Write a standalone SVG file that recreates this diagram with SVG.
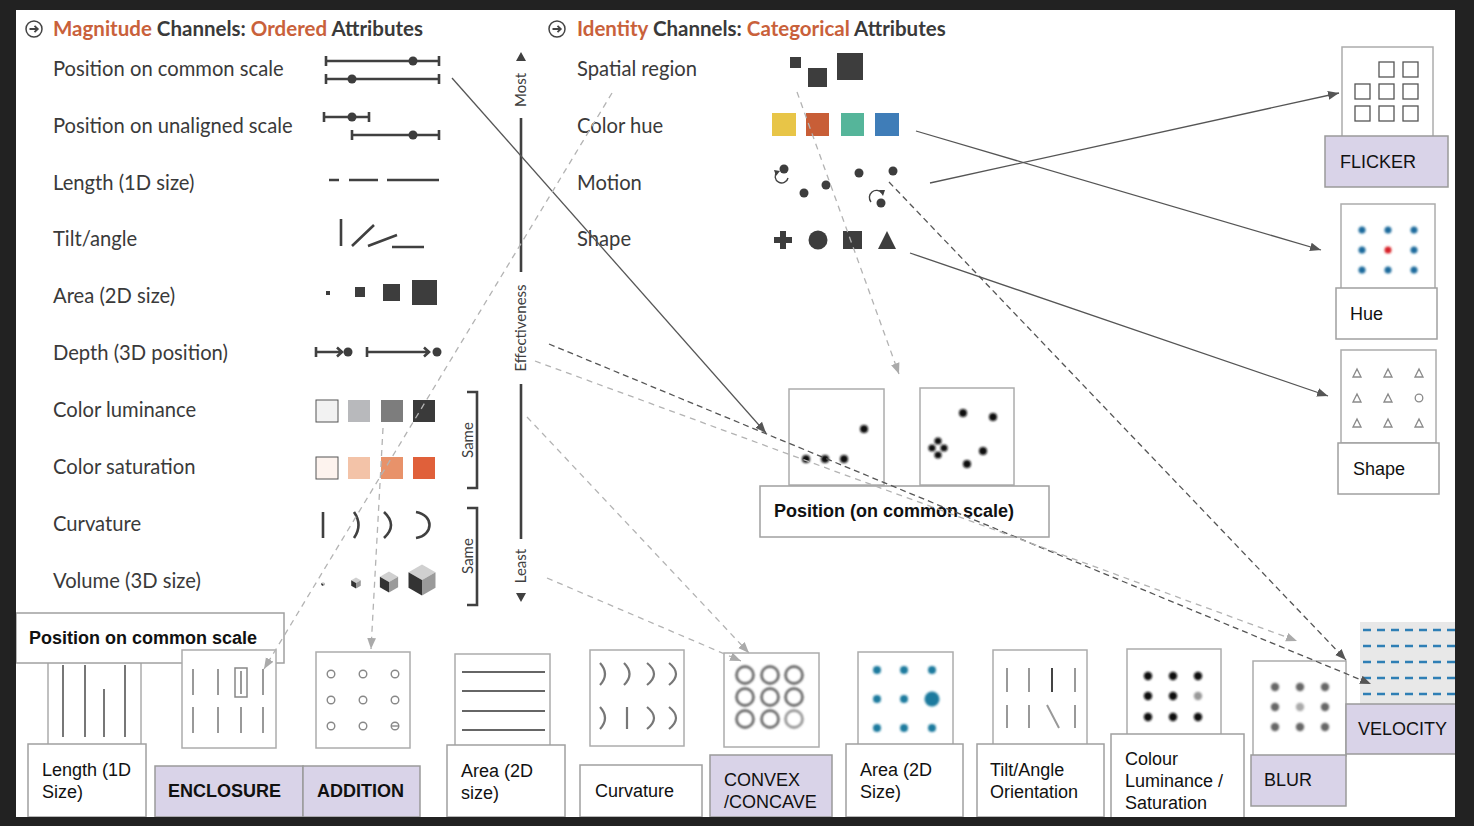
<svg xmlns="http://www.w3.org/2000/svg" xmlns:xlink="http://www.w3.org/1999/xlink" width="1474" height="826" viewBox="0 0 1474 826">
<style>
.lbl{font-family:Lato,"Open Sans",sans-serif;font-size:20.2px;fill:#3a3a3a}
.hdr{font-family:Lato,"Open Sans",sans-serif;font-size:20.5px;font-weight:bold;fill:#3a3a3a}
.or{fill:#c9613b}
.sm{font-family:Lato,"Open Sans",sans-serif;font-size:15px;fill:#404040}
.t{font-family:"Liberation Sans",Arial,sans-serif;font-size:18px;fill:#111}
.tb{font-family:"Liberation Sans",Arial,sans-serif;font-size:18px;font-weight:bold;fill:#111}
.tbb{font-family:"Liberation Sans",Arial,sans-serif;font-size:18px;font-weight:bold;fill:#111}
.box{fill:#fff;stroke:#a0a0a0;stroke-width:1.5}
.lav{fill:#d9d3e8;stroke:#9a9a9a;stroke-width:1.5}
.img{fill:#fff;stroke:#acacac;stroke-width:1.5}
.g{stroke:#404040;stroke-width:2.6;fill:none}
.gf{fill:#3d3d3d}
.sol{stroke:#555;stroke-width:1.3;fill:none}
.dd{stroke:#555;stroke-width:1.3;fill:none;stroke-dasharray:6 4}
.dl{stroke:#b3b3b3;stroke-width:1.3;fill:none;stroke-dasharray:6 5}
</style>
<defs>
<marker id="ad" viewBox="0 0 10 10" refX="10" refY="5" markerWidth="11" markerHeight="11" markerUnits="userSpaceOnUse" orient="auto"><path d="M0,1 L10,5 L0,9 z" fill="#555"/></marker>
<marker id="al" viewBox="0 0 10 10" refX="10" refY="5" markerWidth="11" markerHeight="11" markerUnits="userSpaceOnUse" orient="auto"><path d="M0,1 L10,5 L0,9 z" fill="#aaa"/></marker>
<g id="ic"><circle r="8" fill="none" stroke="#444" stroke-width="1.5"/><path d="M-4.5,0 H3.5 M0.5,-3.2 L3.8,0 L0.5,3.2" stroke="#444" stroke-width="1.8" fill="none"/></g>
<g id="cube"><path d="M0,-1 L0.87,-0.5 L0,0 L-0.87,-0.5 z" fill="#d0d0d0"/><path d="M-0.87,-0.5 L0,0 L0,1 L-0.87,0.5 z" fill="#333"/><path d="M0,0 L0.87,-0.5 L0.87,0.5 L0,1 z" fill="#9a9a9a"/></g>
<filter id="bl" x="-50%" y="-50%" width="200%" height="200%"><feGaussianBlur stdDeviation="0.9"/></filter>
<clipPath id="panel"><rect x="16" y="10" width="1439" height="807"/></clipPath>
</defs>
<rect x="0" y="0" width="1474" height="826" fill="#222"/>
<rect x="16" y="10" width="1439" height="807" fill="#fff"/>
<g clip-path="url(#panel)">
<g id="magnitude-header">
<use href="#ic" x="34" y="29"/>
<text class="hdr" x="53" y="36"><tspan class="or">Magnitude</tspan> Channels: <tspan class="or">Ordered</tspan> Attributes</text>
</g>
<g id="identity-header">
<use href="#ic" x="557" y="29"/>
<text class="hdr" x="577" y="36"><tspan class="or">Identity</tspan> Channels: <tspan class="or">Categorical</tspan> Attributes</text>
</g>

<g id="mag-position-common">
<text class="lbl" x="53" y="76">Position on common scale</text>
<path class="g" d="M326,61 H439 M326,56 V66 M439,56 V66 M326,79 H439 M326,74 V84 M439,74 V84"/>
<circle cx="413" cy="61" r="4.5" class="gf"/><circle cx="352" cy="79" r="4.5" class="gf"/>
</g>
<g id="mag-position-unaligned">
<text class="lbl" x="53" y="133">Position on unaligned scale</text>
<path class="g" d="M324,117 H369 M324,112 V122 M369,112 V122 M352,135 H439 M352,130 V140 M439,130 V140"/>
<circle cx="352" cy="117" r="4.5" class="gf"/><circle cx="413" cy="135" r="4.5" class="gf"/>
</g>
<g id="mag-length">
<text class="lbl" x="53" y="190">Length (1D size)</text>
<path class="g" d="M329,180 H339 M349,180 H378 M387,180 H439"/>
</g>
<g id="mag-tilt">
<text class="lbl" x="53" y="246">Tilt/angle</text>
<path class="g" d="M341,219 V246 M352,246 L374,225 M368,246 L397,235 M392,247 H424"/>
</g>
<g id="mag-area">
<text class="lbl" x="53" y="303">Area (2D size)</text>
<rect x="326" y="291" width="4" height="4" class="gf"/>
<rect x="355" y="287" width="10" height="10" class="gf"/>
<rect x="383" y="284" width="17" height="17" class="gf"/>
<rect x="412" y="280" width="25" height="25" class="gf"/>
</g>
<g id="mag-depth">
<text class="lbl" x="53" y="360">Depth (3D position)</text>
<path class="g" d="M316,347 V357 M316,352 H342 M337,347.5 L342,352 L337,356.5 M367,347 V357 M367,352 H429 M424,347.5 L429,352 L424,356.5"/>
<circle cx="348" cy="352" r="4.5" class="gf"/><circle cx="437" cy="352" r="4.5" class="gf"/>
</g>
<g id="mag-luminance">
<text class="lbl" x="53" y="417">Color luminance</text>
<rect x="316" y="400" width="22" height="22" fill="#f2f2f2" stroke="#555" stroke-width="1"/>
<rect x="348" y="400" width="22" height="22" fill="#b8b9bc"/>
<rect x="381" y="400" width="22" height="22" fill="#7d7d7d"/>
<rect x="413" y="400" width="22" height="22" fill="#3a3a3a"/>
</g>
<g id="mag-saturation">
<text class="lbl" x="53" y="474">Color saturation</text>
<rect x="316" y="457" width="22" height="22" fill="#fdf3ee" stroke="#555" stroke-width="1"/>
<rect x="348" y="457" width="22" height="22" fill="#f3c3a8"/>
<rect x="381" y="457" width="22" height="22" fill="#e8926a"/>
<rect x="413" y="457" width="22" height="22" fill="#e0603a"/>
</g>
<g id="mag-curvature">
<text class="lbl" x="53" y="531">Curvature</text>
<path class="g" d="M323,512 V538 M354,512 Q363,525 354,538 M384,512 Q398,525 384,538 M416,512 C434,515 434,535 416,538"/>
</g>
<g id="mag-volume">
<text class="lbl" x="53" y="588">Volume (3D size)</text>
<use href="#cube" transform="translate(323,584) scale(2)"/>
<use href="#cube" transform="translate(356,583) scale(5.5)"/>
<use href="#cube" transform="translate(389,582) scale(10.5)"/>
<use href="#cube" transform="translate(422,580) scale(15.5)"/>
</g>
<g id="same-brackets">
<path class="g" d="M467,392 H477 V488 H467 M467,508 H477 V605 H467"/>
<text class="sm" font-size="16" transform="rotate(-90 467 440)" x="467" y="446" text-anchor="middle">Same</text>
<text class="sm" font-size="16" transform="rotate(-90 467 556)" x="467" y="562" text-anchor="middle">Same</text>
</g>
<g id="effectiveness-axis">
<path d="M521,52 L526,61 L516,61 z M521,602 L526,593 L516,593 z" fill="#404040"/>
<path class="g" d="M521,118 V272 M521,384 V539"/>
<text class="sm" transform="rotate(-90 521 90)" x="521" y="95" text-anchor="middle">Most</text>
<text class="sm" transform="rotate(-90 521 328)" x="521" y="333" text-anchor="middle">Effectiveness</text>
<text class="sm" transform="rotate(-90 521 566)" x="521" y="571" text-anchor="middle">Least</text>
</g>

<g id="id-spatial">
<text class="lbl" x="577" y="76">Spatial region</text>
<rect x="790" y="57" width="11" height="11" class="gf"/>
<rect x="808" y="68" width="19" height="19" class="gf"/>
<rect x="837" y="53" width="26" height="27" class="gf"/>
</g>
<g id="id-hue">
<text class="lbl" x="577" y="133">Color hue</text>
<rect x="772" y="113" width="24" height="23" fill="#e8c547"/>
<rect x="806" y="113" width="23" height="23" fill="#c85e37"/>
<rect x="841" y="113" width="23" height="23" fill="#55b59a"/>
<rect x="875" y="113" width="24" height="23" fill="#3f7db8"/>
</g>
<g id="id-motion">
<text class="lbl" x="577" y="190">Motion</text>
<circle cx="784" cy="169" r="4.5" class="gf"/>
<path d="M788,178 A6.5,6.5 0 1 1 777,172" fill="none" stroke="#404040" stroke-width="1.4"/>
<path d="M774,170 L780,171 L776,176 z" fill="#404040"/>
<circle cx="804" cy="193" r="4.5" class="gf"/>
<circle cx="826" cy="185" r="4.5" class="gf"/>
<circle cx="859" cy="173" r="4.5" class="gf"/>
<circle cx="893" cy="171" r="4.5" class="gf"/>
<path d="M871,202 A6.5,6.5 0 1 1 882,193" fill="none" stroke="#404040" stroke-width="1.4"/>
<path d="M879,190 L885,190 L883,196 z" fill="#404040"/>
<circle cx="881" cy="203" r="4.5" class="gf"/>
</g>
<g id="id-shape">
<text class="lbl" x="577" y="246">Shape</text>
<path d="M774,237 H792 V243 H774 z M780,231 H786 V249 H780 z" class="gf"/>
<circle cx="818" cy="240" r="9.5" class="gf"/>
<rect x="843" y="231" width="19" height="18" class="gf"/>
<path d="M878,249 L887,231 L896,249 z" class="gf"/>
</g>

<g id="flicker">
<rect class="img" x="1342" y="47" width="91" height="90"/>
<g fill="none" stroke="#555" stroke-width="1.3">
<rect x="1379" y="62" width="15" height="15"/><rect x="1403" y="62" width="15" height="15"/>
<rect x="1355" y="84" width="15" height="15"/><rect x="1379" y="84" width="15" height="15"/><rect x="1403" y="84" width="15" height="15"/>
<rect x="1355" y="106" width="15" height="15"/><rect x="1379" y="106" width="15" height="15"/><rect x="1403" y="106" width="15" height="15"/>
</g>
<rect class="lav" x="1325" y="136" width="123" height="51"/>
<text class="t" x="1340" y="168">FLICKER</text>
</g>
<g id="hue">
<rect class="img" x="1341" y="204" width="94" height="85"/>
<g fill="#1f6a9c" filter="url(#bl)">
<circle cx="1362" cy="230" r="3.5"/><circle cx="1388" cy="230" r="3.5"/><circle cx="1414" cy="230" r="3.5"/>
<circle cx="1362" cy="250" r="3.5"/><circle cx="1388" cy="250" r="3.5" fill="#d8202a"/><circle cx="1414" cy="250" r="3.5"/>
<circle cx="1362" cy="270" r="3.5"/><circle cx="1388" cy="270" r="3.5"/><circle cx="1414" cy="270" r="3.5"/>
</g>
<rect class="box" x="1336" y="288" width="101" height="51"/>
<text class="t" x="1350" y="320">Hue</text>
</g>
<g id="shape">
<rect class="img" x="1341" y="350" width="95" height="93"/>
<g fill="none" stroke="#8a8a8a" stroke-width="1.3">
<path d="M1353,377 L1357,369 L1361,377 z M1384,377 L1388,369 L1392,377 z M1415,377 L1419,369 L1423,377 z"/>
<path d="M1353,402 L1357,394 L1361,402 z M1384,402 L1388,394 L1392,402 z"/>
<circle cx="1419" cy="398" r="3.8"/>
<path d="M1353,427 L1357,419 L1361,427 z M1384,427 L1388,419 L1392,427 z M1415,427 L1419,419 L1423,427 z"/>
</g>
<rect class="box" x="1338" y="443" width="101" height="51"/>
<text class="t" x="1353" y="475">Shape</text>
</g>

<g id="position-common-scale">
<rect class="img" x="789" y="389" width="95" height="96"/>
<g fill="#111" filter="url(#bl)">
<circle cx="806" cy="459" r="4"/><circle cx="825" cy="459" r="4"/><circle cx="844" cy="459" r="4"/><circle cx="864" cy="429" r="4"/>
</g>
<rect class="img" x="920" y="388" width="94" height="97"/>
<g fill="#111" filter="url(#bl)">
<circle cx="963" cy="413" r="4"/><circle cx="993" cy="417" r="4"/>
<circle cx="938" cy="441" r="3.6"/><circle cx="932" cy="448" r="3.6"/><circle cx="944" cy="448" r="3.6"/><circle cx="938" cy="455" r="3.6"/>
<circle cx="983" cy="451" r="4"/><circle cx="967" cy="464" r="4"/>
</g>
<rect class="box" x="760" y="486" width="289" height="51"/>
<text class="tb" x="774" y="517">Position (on common scale)</text>
</g>

<g id="length-1d">
<rect class="img" x="48" y="650" width="93" height="98"/>
<path d="M63,665 V737 M85,665 V737 M104,689 V737 M125,665 V737" stroke="#777" stroke-width="2"/>
<rect class="box" x="28" y="744" width="118" height="73"/>
<text class="t" x="42" y="776">Length (1D</text>
<text class="t" x="42" y="798">Size)</text>
</g>
<g id="position-common-scale-label">
<rect class="box" x="16" y="613" width="268" height="50"/>
<text class="tb" x="29" y="644">Position on common scale</text>
</g>
<g id="enclosure">
<rect class="img" x="182" y="650" width="94" height="98"/>
<path d="M193,669 V695 M218,669 V695 M241,671 V694 M263,669 V695 M193,707 V733 M218,707 V733 M241,707 V733 M263,707 V733" stroke="#999" stroke-width="2"/>
<rect x="235" y="668" width="12" height="29" fill="none" stroke="#888" stroke-width="1.5"/>
<rect class="lav" x="155" y="766" width="148" height="51"/>
<text class="tbb" x="168" y="797">ENCLOSURE</text>
</g>
<g id="addition">
<rect class="img" x="316" y="652" width="94" height="96"/>
<g fill="none" stroke="#888" stroke-width="1.4">
<circle cx="331" cy="674" r="3.8"/><circle cx="363" cy="674" r="3.8"/><circle cx="395" cy="674" r="3.8"/>
<circle cx="331" cy="700" r="3.8"/><circle cx="363" cy="700" r="3.8"/><circle cx="395" cy="700" r="3.8"/>
<circle cx="331" cy="726" r="3.8"/><circle cx="363" cy="726" r="3.8"/><circle cx="395" cy="726" r="3.8"/>
<path d="M391.5,726 H398.5"/>
</g>
<rect class="lav" x="303" y="766" width="117" height="51"/>
<text class="tbb" x="317" y="797">ADDITION</text>
</g>
<g id="area-2d">
<rect class="img" x="455" y="654" width="95" height="93"/>
<path d="M462,672 H545 M462,691 H545 M462,711 H545 M462,730 H545" stroke="#666" stroke-width="2"/>
<rect class="box" x="447" y="745" width="118" height="72"/>
<text class="t" x="461" y="777">Area (2D</text>
<text class="t" x="461" y="799">size)</text>
</g>
<g id="curvature">
<rect class="img" x="590" y="650" width="94" height="96"/>
<path d="M600,663 Q610,674 600,685 M624,663 Q635,674 624,685 M647,663 Q661,674 647,685 M669,663 Q683,674 669,685 M600,707 Q610,718 600,729 M627,707 V729 M647,707 Q661,718 647,729 M669,707 Q683,718 669,729" stroke="#777" stroke-width="2.2" fill="none"/>
<rect class="box" x="580" y="765" width="122" height="52"/>
<text class="t" x="595" y="797">Curvature</text>
</g>
<g id="convex-concave">
<rect class="img" x="724" y="653" width="95" height="94"/>
<g fill="none" stroke="#555" stroke-width="2.4" filter="url(#bl)">
<circle cx="745" cy="675" r="8.5"/><circle cx="770" cy="675" r="8.5"/><circle cx="794" cy="675" r="8.5"/>
<circle cx="745" cy="697" r="8.5"/><circle cx="770" cy="697" r="8.5"/><circle cx="794" cy="697" r="8.5"/>
<circle cx="745" cy="719" r="8.5"/><circle cx="770" cy="719" r="8.5"/><circle cx="794" cy="719" r="8.5" stroke="#888"/>
</g>
<rect class="lav" x="710" y="755" width="122" height="62"/>
<text class="t" x="724" y="786">CONVEX</text>
<text class="t" x="724" y="808">/CONCAVE</text>
</g>
<g id="area-2d-size">
<rect class="img" x="858" y="652" width="95" height="93"/>
<g fill="#1b7a9e" filter="url(#bl)">
<circle cx="877" cy="670" r="4"/><circle cx="904" cy="670" r="4"/><circle cx="932" cy="670" r="4"/>
<circle cx="877" cy="699" r="4"/><circle cx="904" cy="699" r="4"/><circle cx="932" cy="699" r="7.5"/>
<circle cx="877" cy="728" r="4"/><circle cx="904" cy="728" r="4"/><circle cx="932" cy="728" r="4"/>
</g>
<rect class="box" x="846" y="744" width="117" height="73"/>
<text class="t" x="860" y="776">Area (2D</text>
<text class="t" x="860" y="798">Size)</text>
</g>
<g id="tilt-angle">
<rect class="img" x="993" y="650" width="94" height="95"/>
<path d="M1007,668 V692 M1029,668 V692 M1075,668 V692 M1007,705 V728 M1029,705 V728 M1075,705 V728 M1047,705 L1059,728" stroke="#999" stroke-width="2"/>
<path d="M1052,668 V692" stroke="#444" stroke-width="2"/>
<rect class="box" x="977" y="744" width="127" height="73"/>
<text class="t" x="990" y="776">Tilt/Angle</text>
<text class="t" x="990" y="798">Orientation</text>
</g>
<g id="colour-luminance">
<rect class="img" x="1127" y="649" width="94" height="86"/>
<g fill="#111" filter="url(#bl)">
<circle cx="1148" cy="676" r="4.2"/><circle cx="1173" cy="676" r="4.2"/><circle cx="1198" cy="676" r="4.2"/>
<circle cx="1148" cy="696" r="4.2"/><circle cx="1173" cy="696" r="4.2"/><circle cx="1198" cy="696" r="4.2" fill="#999"/>
<circle cx="1148" cy="717" r="4.2"/><circle cx="1173" cy="717" r="4.2"/><circle cx="1198" cy="717" r="4.2"/>
</g>
<rect class="box" x="1111" y="734" width="133" height="84"/>
<text class="t" x="1125" y="765">Colour</text>
<text class="t" x="1125" y="787">Luminance /</text>
<text class="t" x="1125" y="809">Saturation</text>
</g>
<g id="blur">
<rect class="img" x="1253" y="661" width="93" height="95"/>
<g fill="#666" filter="url(#bl)">
<circle cx="1275" cy="687" r="4.2"/><circle cx="1300" cy="687" r="4.2"/><circle cx="1325" cy="687" r="4.2"/>
<circle cx="1275" cy="707" r="4.2"/><circle cx="1300" cy="707" r="4.2" fill="#aaa"/><circle cx="1325" cy="707" r="4.2"/>
<circle cx="1275" cy="727" r="4.2"/><circle cx="1300" cy="727" r="4.2"/><circle cx="1325" cy="727" r="4.2"/>
</g>
<rect class="lav" x="1251" y="755" width="95" height="51"/>
<text class="t" x="1264" y="786">BLUR</text>
</g>
<g id="velocity">
<rect x="1360" y="622" width="95" height="82" fill="#e8e8e8"/>
<path d="M1363,630 H1455 M1363,646 H1455 M1363,662 H1455 M1363,678 H1455 M1363,694 H1455" stroke="#2f7fb5" stroke-width="2.5" stroke-dasharray="8 6"/>
<rect class="lav" x="1346" y="704" width="114" height="50"/>
<text class="t" x="1358" y="735">VELOCITY</text>
</g>

<g id="connectors">
<path class="sol" d="M452,78 L766,433" marker-end="url(#ad)"/>
<path class="sol" d="M930,183 L1339,93" marker-end="url(#ad)"/>
<path class="sol" d="M916,131 L1321,250" marker-end="url(#ad)"/>
<path class="sol" d="M910,253 L1328,396" marker-end="url(#ad)"/>
<path class="dd" d="M889,182 L1346,660" marker-end="url(#ad)"/>
<path class="dd" d="M549,344 L1371,684" marker-end="url(#ad)"/>
<path class="dl" d="M535,361 L1297,641" marker-end="url(#al)"/>
<path class="dl" d="M612,93 L264,669" marker-end="url(#al)"/>
<path class="dl" d="M383,428 L371,649" marker-end="url(#al)"/>
<path class="dl" d="M797,92 L899,374" marker-end="url(#al)"/>
<path class="dl" d="M527,417 L749,653" marker-end="url(#al)"/>
<path class="dl" d="M547,578 L741,661" marker-end="url(#al)"/>
</g>
</g>
</svg>
